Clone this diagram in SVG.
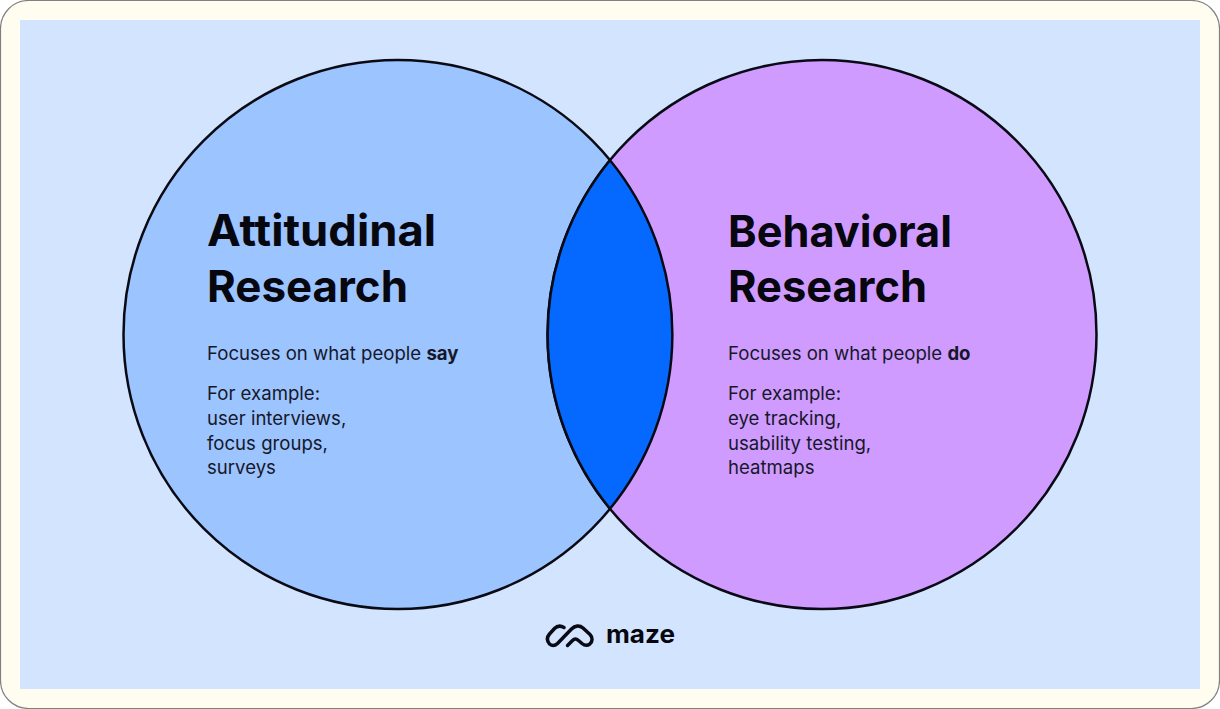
<svg xmlns="http://www.w3.org/2000/svg" width="1220" height="709" viewBox="0 0 1220 709">
<style>
.c{stroke:#0a0a14;stroke-width:2.5}
.h{font-family:"Inter","Liberation Sans",sans-serif;font-size:44px;font-weight:700;fill:#07070f}
.b{font-family:"Inter","Liberation Sans",sans-serif;font-size:18.600px;fill:#16182a}
.s{font-weight:700}
</style>
<rect width="1220" height="709" fill="#fff"/>
<rect x="0.500" y="0.500" width="1219" height="708" rx="28" fill="#fffcf0" stroke="#808080" stroke-width="1.200"/>
<rect x="20" y="20" width="1180" height="669" fill="#d3e4ff"/>
<g id="attitudinal">
<circle class="c" cx="398" cy="334.500" r="274.500" fill="#9cc4ff"/>
</g>
<g id="behavioral">
<circle class="c" cx="822" cy="334.500" r="274.500" fill="#d09bff"/>
</g>
<g id="overlap">
<path class="c" d="M610 160.300A274.500 274.500 0 0 1 610 508.700A274.500 274.500 0 0 1 610 160.300Z" fill="#0569ff"/>
</g>
<g id="attitudinal-text">
<text class="h" x="207" y="246" textLength="229" lengthAdjust="spacingAndGlyphs">Attitudinal</text>
<text class="h" x="207" y="302" textLength="201" lengthAdjust="spacingAndGlyphs">Research</text>
<text class="b" x="207" y="360">Focuses on what people <tspan class="s">say</tspan></text>
<text class="b" x="207" y="400">For example:</text>
<text class="b" x="207" y="425">user interviews,</text>
<text class="b" x="207" y="450">focus groups,</text>
<text class="b" x="207" y="474">surveys</text>
</g>
<g id="behavioral-text">
<text class="h" x="728" y="247" textLength="224" lengthAdjust="spacingAndGlyphs">Behavioral</text>
<text class="h" x="728" y="302" textLength="199" lengthAdjust="spacingAndGlyphs">Research</text>
<text class="b" x="728" y="360">Focuses on what people <tspan class="s">do</tspan></text>
<text class="b" x="728" y="400">For example:</text>
<text class="b" x="728" y="425">eye tracking,</text>
<text class="b" x="728" y="450">usability testing,</text>
<text class="b" x="728" y="474">heatmaps</text>
</g>
<g id="logo">
<path d="M564 627.500C560 625 557 626 554.500 628.500L549.500 634C546.500 637.500 547 641 549.500 644C552 646 555 645.800 557.500 643.500L571.500 629C575 625.500 579.500 625 583 628L590 634.500C593 637.500 592.500 641.500 590 643.800C587.500 645.800 584.500 645.500 582 643.500L578.500 640.500C576 638.300 574.500 638.500 572.500 640.500L567.500 645.500" fill="none" stroke="#0a0a14" stroke-width="3.500" stroke-linecap="round" stroke-linejoin="round"/>
<text x="606" y="643" font-family="Inter,'Liberation Sans',sans-serif" font-size="25" font-weight="700" fill="#07070f" textLength="69" lengthAdjust="spacingAndGlyphs">maze</text>
</g>
</svg>
